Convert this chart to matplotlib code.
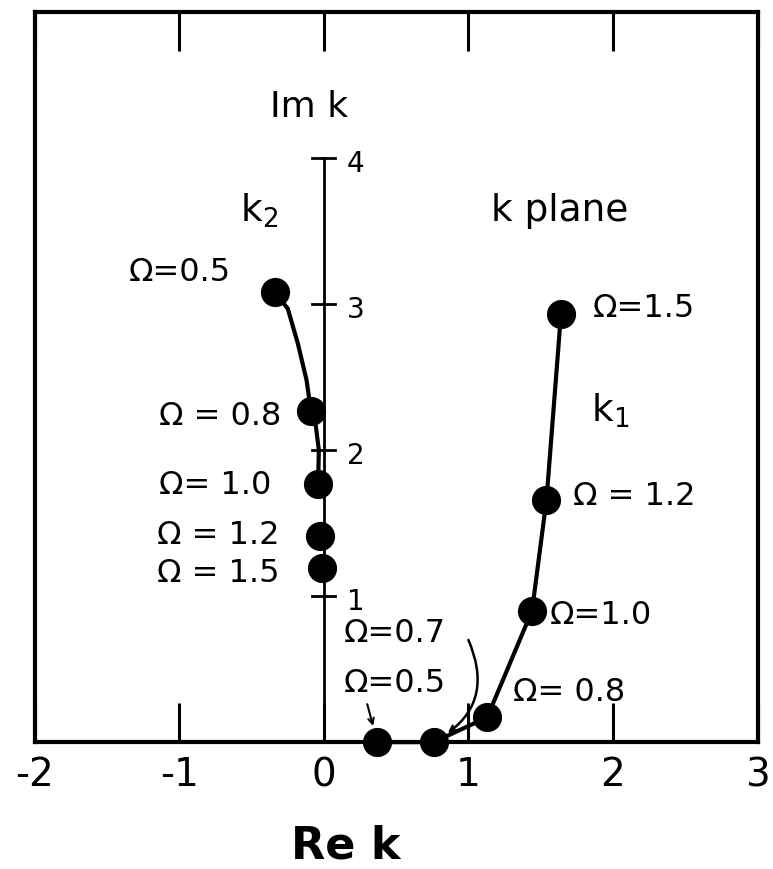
import matplotlib.pyplot as plt
import numpy as np

# roots of the dispersion relation in the complex k plane
omega_k1 = ['0.5', '0.7', '0.8', '1.0', '1.2', '1.5']
re_k1 = [0.37, 0.76, 1.13, 1.44, 1.54, 1.64]
im_k1 = [0.0, 0.0, 0.17, 0.90, 1.66, 2.93]

omega_k2 = ['0.5', '0.8', '1.0', '1.2', '1.5']
re_k2 = [-0.34, -0.09, -0.04, -0.03, -0.01]
im_k2 = [3.08, 2.27, 1.77, 1.41, 1.19]

# traced k2 branch between Omega=0.5 and Omega=1.0
re_k2_curve = [-0.34, -0.25, -0.18, -0.12, -0.09, -0.055, -0.035, -0.04]
im_k2_curve = [3.08, 2.97, 2.73, 2.48, 2.27, 2.16, 2.0, 1.77]

xticks = [-2, -1, 0, 1, 2, 3]
im_ticks = [1, 2, 3, 4]

fig = plt.figure(figsize=(7.73, 8.69), dpi=100)
ax = fig.add_axes([0.045, 0.146, 0.935, 0.840])
ax.set_xlim(-2, 3)
ax.set_ylim(0, 5)
for s in ax.spines.values():
    s.set_linewidth(3)

ax.set_xticks(xticks)
ax.set_xticklabels([str(t) for t in xticks], fontsize=28)
ax.tick_params(axis='x', direction='in', length=28, width=2.2, top=True, pad=10)
ax.set_yticks([])
fig.text(346 / 773, 1 - 846 / 869, 'Re k', fontsize=32, fontweight='bold',
         ha='center', va='center')

# inner Im k axis
ax.plot([0, 0], [0, 4], color='black', lw=2)
for t in im_ticks:
    ax.plot([-0.08, 0.08], [t, t], color='black', lw=2)
    ax.text(0.16, t - 0.04, str(t), fontsize=20, va='center', ha='left')
ax.text(-0.1, 4.35, 'Im k', fontsize=26, ha='center', va='center')

# branches
ax.plot(re_k1, im_k1, color='black', lw=3, clip_on=False, zorder=4)
ax.plot(re_k2_curve, im_k2_curve, color='black', lw=3, zorder=4)
ax.plot(re_k1, im_k1, 'o', color='black', ms=20, clip_on=False, zorder=5)
ax.plot(re_k2, im_k2, 'o', color='black', ms=20, clip_on=False, zorder=5)

lab = dict(fontsize=23, va='center', textcoords='offset pixels')
# k2 labels, to the left of the points
k2_off = [(-44, 20), (-30, -6), (-47, -2), (-40, 1), (-43, -5)]
k2_txt = ['\u03a9=', '\u03a9 = ', '\u03a9= ', '\u03a9 = ', '\u03a9 = ']
for w, x, y, t, off in zip(omega_k2, re_k2, im_k2, k2_txt, k2_off):
    ax.annotate(t + w, (x, y), xytext=off, ha='right', **lab)

# k1 labels, to the right of the points
k1_off = {'0.8': (26, 25), '1.0': (18, -5), '1.2': (27, 3), '1.5': (32, 6)}
k1_txt = {'0.8': '\u03a9= ', '1.0': '\u03a9=', '1.2': '\u03a9 = ', '1.5': '\u03a9='}
for w, x, y in zip(omega_k1, re_k1, im_k1):
    if w in k1_off:
        ax.annotate(k1_txt[w] + w, (x, y), xytext=k1_off[w], ha='left', **lab)

# low-frequency k1 roots sit on the real axis
ax.annotate('\u03a9=0.5', (re_k1[0], im_k1[0]), xytext=(-34, 59), ha='left', **lab)
ax.annotate('', (re_k1[0], im_k1[0]), xytext=(re_k1[0] - 0.07, 0.26),
            arrowprops=dict(arrowstyle='->', lw=1.5, color='black', shrinkA=0, shrinkB=12))
ax.annotate('\u03a9=0.7', (re_k1[1], im_k1[1]), xytext=(-90, 109), ha='left', **lab)
ax.annotate('', (re_k1[1], im_k1[1]), xytext=(re_k1[1] + 0.24, 0.70),
            arrowprops=dict(arrowstyle='->', lw=1.8, color='black', shrinkA=0, shrinkB=12,
                            connectionstyle='arc3,rad=-0.45'))

ax.text(-0.45, 3.64, 'k$_2$', fontsize=27, ha='center', va='center')
ax.text(1.63, 3.64, 'k plane', fontsize=27, ha='center', va='center')
ax.text(1.98, 2.27, 'k$_1$', fontsize=27, ha='center', va='center')

fig.savefig('out.png', dpi=100)
